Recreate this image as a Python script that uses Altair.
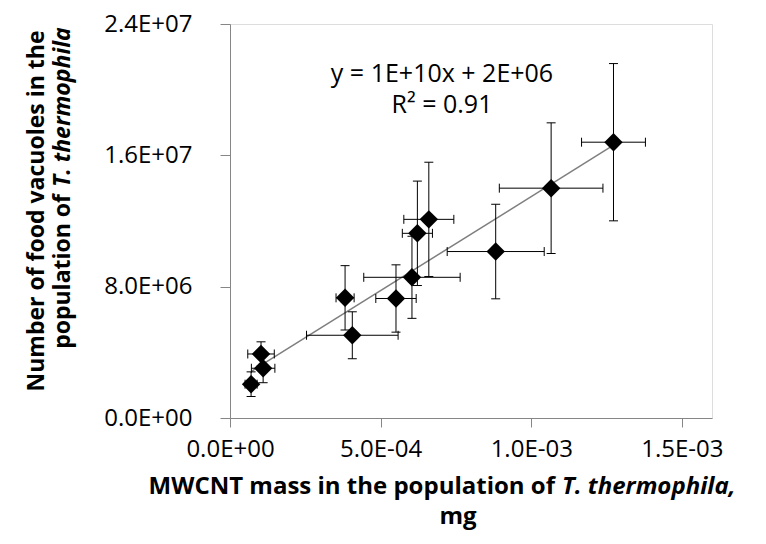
import altair as alt
import pandas as pd

# data
mass = [7.0e-5, 1.10e-4, 1.03e-4, 4.06e-4, 3.82e-4, 5.51e-4, 6.04e-4, 6.22e-4, 6.60e-4, 8.82e-4, 1.066e-3, 1.273e-3]
mass_err = [2.0e-5, 3.9e-5, 4.4e-5, 1.52e-4, 3.0e-5, 6.7e-5, 1.6e-4, 5.0e-5, 8.3e-5, 1.61e-4, 1.72e-4, 1.06e-4]
vacuoles = [2.06e6, 3.03e6, 3.90e6, 5.04e6, 7.32e6, 7.28e6, 8.57e6, 1.125e7, 1.21e7, 1.014e7, 1.40e7, 1.68e7]
vacuoles_err = [0.75e6, 0.88e6, 0.74e6, 1.43e6, 1.96e6, 2.05e6, 2.5e6, 3.18e6, 3.48e6, 2.88e6, 3.98e6, 4.79e6]

x_ticks = [0, 5e-4, 1e-3, 1.5e-3]
x_tick_labels = ["0.0E+00", "5.0E-04", "1.0E-03", "1.5E-03"]
y_ticks = [0, 8e6, 1.6e7, 2.4e7]
y_tick_labels = ["0.0E+00", "8.0E+06", "1.6E+07", "2.4E+07"]

equation = ["y = 1E+10x + 2E+06", "R\u00b2 = 0.91"]
y_title = ["Number of food vacuoles in the", "population of", "T. thermophila"]
x_title = ["MWCNT mass in the population of", "T. thermophila,", "mg"]

FONT = "Open Sans"
AXIS_GREY = "#868686"

df = pd.DataFrame({
    "x": mass, "y": vacuoles,
    "xlo": [m - e for m, e in zip(mass, mass_err)],
    "xhi": [m + e for m, e in zip(mass, mass_err)],
    "ylo": [v - e for v, e in zip(vacuoles, vacuoles_err)],
    "yhi": [v + e for v, e in zip(vacuoles, vacuoles_err)],
})


def label_expr(ticks, labels):
    expr = f"'{labels[-1]}'"
    for i in range(len(ticks) - 2, -1, -1):
        mid = (ticks[i] + ticks[i + 1]) / 2
        expr = f"datum.value < {mid} ? '{labels[i]}' : ({expr})"
    return expr


x_scale = alt.Scale(domain=[0, 1.6e-3], nice=False, zero=True)
y_scale = alt.Scale(domain=[0, 2.4e7], nice=False, zero=True)

x_enc = alt.X("x:Q", scale=x_scale, axis=alt.Axis(
    values=x_ticks, labelExpr=label_expr(x_ticks, x_tick_labels), title=None,
    grid=False, domainColor=AXIS_GREY, tickColor=AXIS_GREY, tickSize=9,
    labelFont=FONT, labelFontSize=24, labelColor="black", labelPadding=10,
    labelFlush=False, labelOverlap=False))
y_enc = alt.Y("y:Q", scale=y_scale, axis=alt.Axis(
    values=y_ticks, labelExpr=label_expr(y_ticks, y_tick_labels), title=None,
    grid=False, domainColor=AXIS_GREY, tickColor=AXIS_GREY, tickSize=10,
    labelFont=FONT, labelFontSize=24, labelColor="black", labelPadding=28,
    labelFlush=False, labelOverlap=False))

base = alt.Chart(df)

trend = base.transform_regression("x", "y").mark_line(
    color="#7f7f7f", strokeWidth=1.5).encode(x=x_enc, y=y_enc)

vbar = base.mark_rule(color="black", strokeWidth=1).encode(
    x=alt.X("x:Q", scale=x_scale), y=alt.Y("ylo:Q", scale=y_scale), y2="yhi:Q")
hbar = base.mark_rule(color="black", strokeWidth=1).encode(
    x=alt.X("xlo:Q", scale=x_scale), x2="xhi:Q", y=alt.Y("y:Q", scale=y_scale))

cap_top = base.mark_rule(color="black", strokeWidth=1, xOffset=-4.5, x2Offset=4.5).encode(
    x=alt.X("x:Q", scale=x_scale), x2="x:Q", y=alt.Y("yhi:Q", scale=y_scale))
cap_bot = base.mark_rule(color="black", strokeWidth=1, xOffset=-4.5, x2Offset=4.5).encode(
    x=alt.X("x:Q", scale=x_scale), x2="x:Q", y=alt.Y("ylo:Q", scale=y_scale))
cap_left = base.mark_rule(color="black", strokeWidth=1, yOffset=-4.5, y2Offset=4.5).encode(
    x=alt.X("xlo:Q", scale=x_scale), y=alt.Y("y:Q", scale=y_scale), y2="y:Q")
cap_right = base.mark_rule(color="black", strokeWidth=1, yOffset=-4.5, y2Offset=4.5).encode(
    x=alt.X("xhi:Q", scale=x_scale), y=alt.Y("y:Q", scale=y_scale), y2="y:Q")

points = base.mark_point(shape="diamond", filled=True, color="black",
                         size=340, opacity=1).encode(x=x_enc, y=y_enc)


def text(t, x, y, size=25, weight="normal", style="normal", align="center", angle=0):
    return alt.Chart(pd.DataFrame({"t": [t]})).mark_text(
        font=FONT, fontSize=size, fontWeight=weight, fontStyle=style,
        align=align, baseline="middle", angle=angle, color="black"
    ).encode(text="t:N", x=alt.value(x), y=alt.value(y))


annotations = [
    text(equation[0], 212, 50),
    text(equation[1], 212, 81),
    text(y_title[0], -193, 187, size=23, weight="bold", angle=270),
    text(y_title[1], -167, 170, size=23, weight="bold", align="right", angle=270),
    text(y_title[2], -167, 163, size=23, weight="bold", style="italic", align="left", angle=270),
    text(x_title[0], 325, 463, size=24, weight="bold", align="right"),
    text(x_title[1], 332, 463, size=24, weight="bold", style="italic", align="left"),
    text(x_title[2], 228, 493, size=24, weight="bold"),
]

chart = alt.layer(trend, vbar, hbar, cap_top, cap_bot, cap_left, cap_right, points,
                  *annotations).properties(
    width=482, height=394,
    autosize=alt.AutoSizeParams(type="none"),
    padding={"left": 222, "top": 16, "right": 40, "bottom": 118},
).configure_view(stroke=None).configure(background="white")

chart.save("out.html", embed_options={"renderer": "svg", "actions": False})
